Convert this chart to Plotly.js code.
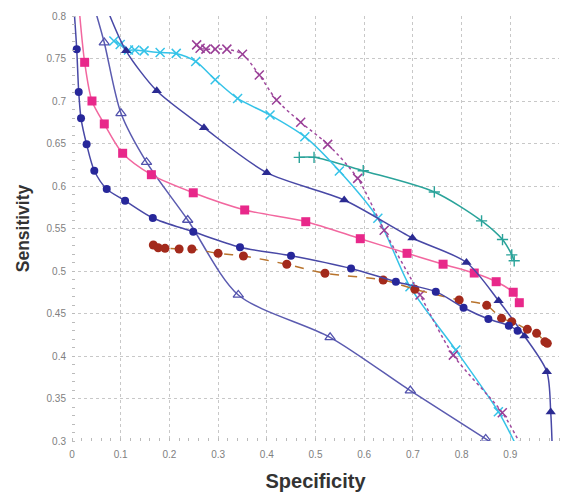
<!DOCTYPE html>
<html>
<head>
<meta charset="utf-8">
<script src="https://cdn.plot.ly/plotly-3.0.1.min.js"></script>
<style>html,body{margin:0;padding:0;background:#fff}#chart{width:562px;height:497px}</style>
</head>
<body>
<div id="chart"></div>
<script>
// Navy filled circles
const navyCircX = [0.0097,0.0138,0.0185,0.030,0.0458,0.0713,0.109,0.166,0.249,0.345,0.4497,0.573,0.665,0.747,0.804,0.855,0.897,0.915];
const navyCircY = [0.761,0.7106,0.6796,0.649,0.618,0.5965,0.5827,0.5624,0.5462,0.528,0.518,0.503,0.4874,0.4757,0.4568,0.4435,0.4357,0.4298];
const navyCircStart = [[0.004],[0.81]];

// Pink squares
const pinkX = [0.026,0.041,0.0663,0.104,0.163,0.249,0.3546,0.48,0.592,0.688,0.762,0.826,0.871,0.906,0.9185];
const pinkY = [0.7455,0.70,0.673,0.6385,0.6133,0.592,0.5718,0.558,0.538,0.5208,0.508,0.4976,0.4874,0.475,0.4627];
const pinkStart = [[0.0145],[0.81]];

// Navy filled triangles
const triX = [0.111,0.174,0.271,0.40,0.559,0.699,0.810,0.876,0.929,0.975,0.983];
const triY = [0.759,0.712,0.6686,0.6157,0.5835,0.5388,0.51,0.465,0.4235,0.3816,0.334];
const triStart = [[0.0765],[0.802]];
const triEnd = [[0.9862],[0.29]];

// Hollow triangles
const openTriX = [0.0663,0.1006,0.153,0.2376,0.3415,0.53,0.6947,0.8495];
const openTriY = [0.7686,0.6855,0.628,0.56,0.4718,0.422,0.3592,0.3024];
const openTriStart = [[0.049],[0.804]];
const openTriEnd = [[0.866],[0.296]];

// Cyan x
const cyanX = [0.086,0.099,0.116,0.129,0.148,0.181,0.214,0.254,0.294,0.340,0.4066,0.478,0.549,0.628,0.694,0.788,0.8755];
const cyanY = [0.7705,0.7665,0.760,0.760,0.759,0.757,0.756,0.7465,0.725,0.703,0.6835,0.658,0.6176,0.562,0.4815,0.407,0.3345];
const cyanEnd = [[0.911],[0.296]];

// Purple x (dotted)
const purpX = [0.256,0.263,0.275,0.294,0.318,0.350,0.3846,0.420,0.4696,0.525,0.5866,0.641,0.7146,0.783,0.8836];
const purpY = [0.766,0.762,0.761,0.761,0.761,0.755,0.7306,0.7012,0.675,0.649,0.609,0.548,0.4718,0.401,0.3333];
const purpEnd = [[0.921],[0.296]];

// Teal +
const tealX = [0.4667,0.497,0.598,0.744,0.841,0.884,0.903,0.908];
const tealY = [0.6337,0.6337,0.618,0.593,0.559,0.537,0.519,0.512];

// Dark red circles (dashed)
const redX = [0.167,0.177,0.191,0.220,0.246,0.300,0.352,0.441,0.5195,0.639,0.704,0.795,0.8515,0.882,0.903,0.935,0.954,0.971,0.976];
const redY = [0.5306,0.5274,0.5267,0.5259,0.5259,0.5208,0.5176,0.5079,0.4973,0.4894,0.4785,0.4659,0.4596,0.4443,0.4404,0.4314,0.4267,0.4168,0.4149];

const xTicks = [0,0.1,0.2,0.3,0.4,0.5,0.6,0.7,0.8,0.9,1];
const xTickText = ['0','0.1','0.2','0.3','0.4','0.5','0.6','0.7','0.8','0.9','1'];
const yTicks = [0.3,0.35,0.4,0.45,0.5,0.55,0.6,0.65,0.7,0.75,0.8];
const yTickText = ['0.3','0.35','0.4','0.45','0.5','0.55','0.6','0.65','0.7','0.75','0.8'];

function series(xs, ys, start, end, lineStyle, marker) {
  const lx = (start ? start[0] : []).concat(xs, end ? end[0] : []);
  const ly = (start ? start[1] : []).concat(ys, end ? end[1] : []);
  return [
    {x: lx, y: ly, mode: 'lines', line: Object.assign({shape: 'spline', smoothing: 0.8}, lineStyle), hoverinfo: 'skip', showlegend: false},
    {x: xs, y: ys, mode: 'markers', marker: marker, showlegend: false}
  ];
}

const traces = [].concat(
  series(openTriX, openTriY, openTriStart, openTriEnd, {color: '#5b5bb0', width: 1.5}, {symbol: 'triangle-up-open', size: 9, color: '#5252ad', line: {width: 1.3, color: '#5252ad'}}),
  series(tealX, tealY, null, null, {color: '#2aa39a', width: 1.5}, {symbol: 'cross-thin-open', size: 8, color: '#2aa39a', line: {width: 1.4, color: '#2aa39a'}}),
  series(cyanX, cyanY, null, cyanEnd, {color: '#35c3e8', width: 1.5}, {symbol: 'x-thin-open', size: 9, color: '#35c3e8', line: {width: 1.5, color: '#35c3e8'}}),
  series(purpX, purpY, null, purpEnd, {color: '#a04a9e', width: 1.5, dash: 'dot'}, {symbol: 'x-thin-open', size: 9, color: '#9a3f97', line: {width: 1.5, color: '#9a3f97'}}),
  series(pinkX, pinkY, pinkStart, null, {color: '#f2679f', width: 1.5}, {symbol: 'square', size: 9, color: '#e8288a'}),
  series(triX, triY, triStart, triEnd, {color: '#4848a6', width: 1.5}, {symbol: 'triangle-up', size: 9, color: '#2b2b92'}),
  series(redX, redY, null, null, {color: '#b8732c', width: 1.5, dash: 'dash'}, {symbol: 'circle', size: 9, color: '#a32a1c'}),
  series(navyCircX, navyCircY, navyCircStart, null, {color: '#4848a6', width: 1.5}, {symbol: 'circle', size: 8, color: '#27279a'})
);

const fontFam = 'Liberation Sans, Arial, sans-serif';
const layout = {
  width: 562, height: 497,
  margin: {l: 72, r: 3, t: 16, b: 56},
  paper_bgcolor: '#fff', plot_bgcolor: '#fff',
  showlegend: false,
  xaxis: {
    range: [0, 1], tickvals: xTicks, ticktext: xTickText,
    showgrid: true, gridcolor: '#c8c8c8', griddash: 'dot', gridwidth: 1,
    zeroline: false, showline: false, ticks: '', ticklabelstandoff: 6,
    tickfont: {family: fontFam, size: 10, color: '#808080'},
    minor: {dtick: 0.02, ticks: 'inside', ticklen: 3, tickcolor: '#bbb', showgrid: false},
    title: {text: 'Specificity', font: {family: fontFam, size: 20, color: '#333', weight: 'bold'}, standoff: 14}
  },
  yaxis: {
    range: [0.3, 0.8], tickvals: yTicks, ticktext: yTickText,
    showgrid: true, gridcolor: '#c8c8c8', griddash: 'dot', gridwidth: 1,
    zeroline: false, showline: false, ticks: '', ticklabelstandoff: 5,
    tickfont: {family: fontFam, size: 10, color: '#808080'},
    minor: {dtick: 0.01, ticks: 'inside', ticklen: 3, tickcolor: '#bbb', showgrid: false},
    title: {text: 'Sensitivity', font: {family: fontFam, size: 17.5, color: '#333', weight: 'bold'}, standoff: 12}
  }
};

Plotly.newPlot('chart', traces, layout, {displayModeBar: false, staticPlot: true});
</script>
</body>
</html>
